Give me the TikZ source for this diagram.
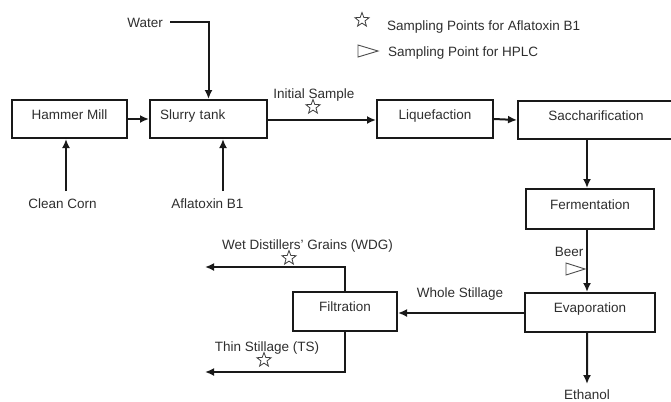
\documentclass[tikz,border=0pt]{standalone}
\usepackage{fontspec}
\setmainfont{Liberation Sans}
\usetikzlibrary{arrows.meta,shapes.geometric}
\begin{document}
\begin{tikzpicture}[x=1bp,y=-1bp,
  font=\fontsize{13.5bp}{16bp}\selectfont,
  every node/.style={text=black!82},
  procbox/.style={draw=black!90, line width=2bp, minimum height=38bp, inner sep=0pt,
    text height=10bp, text depth=10bp},
  lbl/.style={inner sep=0pt, anchor=base},
  arr/.style={line width=2bp, draw=black!90, -{Latex[length=9bp,width=8bp]}},
  starmark/.style={star, star points=5, star point ratio=2.4, draw=black!75, line width=0.8bp,
    minimum size=15bp, inner sep=0pt},
  trimark/.style={draw=black!70, line width=0.9bp}]
\useasboundingbox (0,0) rectangle (671,401);
% boxes
\node[procbox, minimum width=115bp] (hm) at (69.5,119) {Hammer Mill};
\node[procbox, minimum width=117bp, text width=97bp, align=left, inner xsep=10bp] (st) at (208.5,119) {Slurry tank};
\node[procbox, minimum width=116bp] (lq) at (435,119) {Liquefaction};
\node[procbox, minimum width=156bp] (sc) at (596,120) {Saccharification};
\node[procbox, minimum width=128bp, minimum height=40bp] (fe) at (590,209) {Fermentation};
\node[procbox, minimum width=130bp, minimum height=39bp] (ev) at (590,312.5) {Evaporation};
\node[procbox, minimum width=104bp, minimum height=39bp] (fi) at (345,311.5) {Filtration};
% labels
\node[lbl, anchor=base east] (wt) at (163,27) {Water};
\node[lbl] (cc) at (62.5,208) {Clean Corn};
\node[lbl] (af) at (207.5,208) {Aflatoxin B1};
\node[lbl] (is) at (314,98) {Initial Sample};
\node[lbl] (be) at (569,256) {Beer};
\node[lbl] (ws) at (460,297) {Whole Stillage};
\node[lbl] (wdg) at (307.5,249) {Wet Distillers' Grains (WDG)};
\node[lbl] (ts) at (267,351) {Thin Stillage (TS)};
\node[lbl] (et) at (587,399.5) {Ethanol};
\node[lbl, anchor=base west] (lg1) at (387,30) {Sampling Points for Aflatoxin B1};
\node[lbl, anchor=base west] (lg2) at (388,56) {Sampling Point for HPLC};
% coordinates
\coordinate (wdgend) at (205,267);
\coordinate (tsend) at (205,372);
\coordinate (etend) at (587,384);
% connectors
\draw[arr] ([xshift=7bp]wt.east |- 0,22) -| (st.north);
\draw[arr] (hm.east) -- (st.west);
\draw[arr] ([xshift=3.5bp]cc.north) ++(0,-7) -- ([xshift=3.5bp]cc.north |- hm.south);
\draw[arr] ([xshift=15.5bp]af.north) ++(0,-7) -- ([xshift=15.5bp]af.north |- hm.south);
\draw[arr] ([yshift=-1bp]st.east) -- ([yshift=-1bp]st.east -| lq.west);
\draw[arr] (lq.east) -- (sc.west);
\draw[arr] ([xshift=-9bp]sc.south) -- ([xshift=-9bp]sc.south |- fe.north);
\draw[arr] ([xshift=-3bp]fe.south) -- ([xshift=-3bp]fe.south |- ev.north);
\draw[arr] ([xshift=-3bp]ev.south) -- (etend);
\draw[arr] ([yshift=-0.5bp]ev.west) -- ([yshift=-0.5bp]ev.west -| fi.east);
\draw[arr] (fi.north) |- (wdgend);
\draw[arr] (fi.south) |- (tsend);
% sampling marks
\node[starmark] (s1) at (313,107) {};
\node[starmark] (s2) at (289,258) {};
\node[starmark] (s3) at (264,360) {};
\node[starmark] (s0) at (362,20) {};
\draw[trimark] (566,263) -- (585,269) -- (566,275) -- cycle;
\draw[trimark] (358,45) -- (378,51) -- (358,57) -- cycle;
\end{tikzpicture}
\end{document}
